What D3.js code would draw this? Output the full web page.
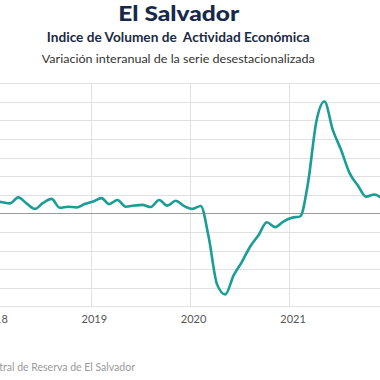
<!DOCTYPE html>
<html>
<head>
<meta charset="utf-8">
<script src="https://cdn.jsdelivr.net/npm/d3@7"></script>
<style>
  html, body { margin: 0; padding: 0; background: #fff; }
  svg { display: block; }
</style>
</head>
<body>
<svg id="chart" width="380" height="380"></svg>
<script>
// ---- Data ----
const months = [
  "2018-01","2018-02","2018-03","2018-04","2018-05","2018-06","2018-07","2018-08","2018-09","2018-10","2018-11","2018-12",
  "2019-01","2019-02","2019-03","2019-04","2019-05","2019-06","2019-07","2019-08","2019-09","2019-10","2019-11","2019-12",
  "2020-01","2020-02","2020-03","2020-04","2020-05","2020-06","2020-07","2020-08","2020-09","2020-10","2020-11","2020-12",
  "2021-01","2021-02","2021-03","2021-04","2021-05","2021-06","2021-07","2021-08","2021-09","2021-10","2021-11","2021-12"
];
const values = [
  3.3, 3.0, 2.7, 4.3, 2.7, 1.2, 2.8, 3.9, 1.5, 1.8, 1.6, 2.5,
  3.2, 4.1, 2.5, 3.6, 1.8, 2.1, 2.3, 1.7, 3.6, 2.1, 3.4, 2.0,
  1.2, 2.0, -6.3, -19.1, -21.8, -16.7, -13.1, -8.9, -5.8, -2.4, -3.7, -2.2,
  -1.2, -0.8, 7.9, 24.6, 30.1, 22.4, 17.1, 10.9, 7.5, 4.5, 5.1, 3.8
];
const yearTicks = ["2018", "2019", "2020", "2021"];
const yTicks = [-25, -20, -15, -10, -5, 0, 5, 10, 15, 20, 25, 30, 35];

const title = "El Salvador";
const subtitle = "Indice de Volumen de  Actividad Económica";
const subtitle2 = "Variación interanual de la serie desestacionalizada";
const source = "Fuente: Banco Central de Reserva de El Salvador";

// ---- Layout ----
const W = 380, H = 380;
const svg = d3.select("#chart");
const parse = d3.timeParse("%Y-%m");
const data = months.map((m, i) => ({ date: d3.timeDay.offset(parse(m), 9), v: values[i] }));

const x = d3.scaleTime()
  .domain([new Date(2018, 0, 1), new Date(2022, 0, 1)])
  .range([-8.6, 388.6]);
const y = d3.scaleLinear().domain([-25, 35]).range([306.3, 83.3]);

const font = "'Lato', 'Open Sans', sans-serif";

// horizontal gridlines
svg.append("g").selectAll("line").data(yTicks).join("line")
  .attr("x1", 0).attr("x2", W)
  .attr("y1", d => Math.round(y(d)) + 0.5).attr("y2", d => Math.round(y(d)) + 0.5)
  .attr("stroke", d => d === 0 ? "#9a9a9a" : "#e1e1e1")
  .attr("stroke-width", 1);

// vertical year gridlines
svg.append("g").selectAll("line").data(yearTicks).join("line")
  .attr("x1", d => Math.round(x(new Date(+d, 0, 1))) + 0.5)
  .attr("x2", d => Math.round(x(new Date(+d, 0, 1))) + 0.5)
  .attr("y1", y(35)).attr("y2", y(-25))
  .attr("stroke", "#e1e1e1").attr("stroke-width", 1);

// redraw zero line on top of verticals
svg.append("line")
  .attr("x1", 0).attr("x2", W)
  .attr("y1", Math.round(y(0)) + 0.5).attr("y2", Math.round(y(0)) + 0.5)
  .attr("stroke", "#9a9a9a").attr("stroke-width", 1);

// year labels
svg.append("g").selectAll("text").data(yearTicks).join("text")
  .attr("x", d => x(new Date(+d, 0, 1)) + 3.7)
  .attr("y", 322.5)
  .attr("text-anchor", "middle")
  .attr("font-family", font)
  .attr("font-size", 11)
  .attr("fill", "#555")
  .text(d => d);

// line
const line = d3.line()
  .x(d => x(d.date))
  .y(d => y(d.v))
  .curve(d3.curveMonotoneX);

svg.append("path")
  .datum(data)
  .attr("d", line)
  .attr("fill", "none")
  .attr("stroke", "#1a9d95")
  .attr("stroke-width", 2.6)
  .attr("stroke-linejoin", "round")
  .attr("stroke-linecap", "round");

// titles
svg.append("text")
  .attr("x", 178.8).attr("y", 20.5)
  .attr("text-anchor", "middle")
  .attr("font-family", font).attr("font-weight", 900)
  .attr("font-size", 21)
  .attr("fill", "#16294a")
  .attr("textLength", 121).attr("lengthAdjust", "spacingAndGlyphs")
  .text(title);

svg.append("text")
  .attr("x", 178.3).attr("y", 42.3)
  .attr("text-anchor", "middle")
  .attr("font-family", font).attr("font-weight", 700)
  .attr("font-size", 12.5)
  .attr("fill", "#1c2a44")
  .attr("textLength", 263).attr("lengthAdjust", "spacingAndGlyphs")
  .attr("xml:space", "preserve")
  .style("white-space", "pre")
  .text(subtitle);

svg.append("text")
  .attr("x", 178.3).attr("y", 62.5)
  .attr("text-anchor", "middle")
  .attr("font-family", font)
  .attr("font-size", 11)
  .attr("fill", "#333")
  .attr("textLength", 273).attr("lengthAdjust", "spacingAndGlyphs")
  .text(subtitle2);

svg.append("text")
  .attr("x", 135).attr("y", 371)
  .attr("text-anchor", "end")
  .attr("font-family", font)
  .attr("font-size", 10.5)
  .attr("fill", "#999")
  .text(source);
</script>
</body>
</html>
